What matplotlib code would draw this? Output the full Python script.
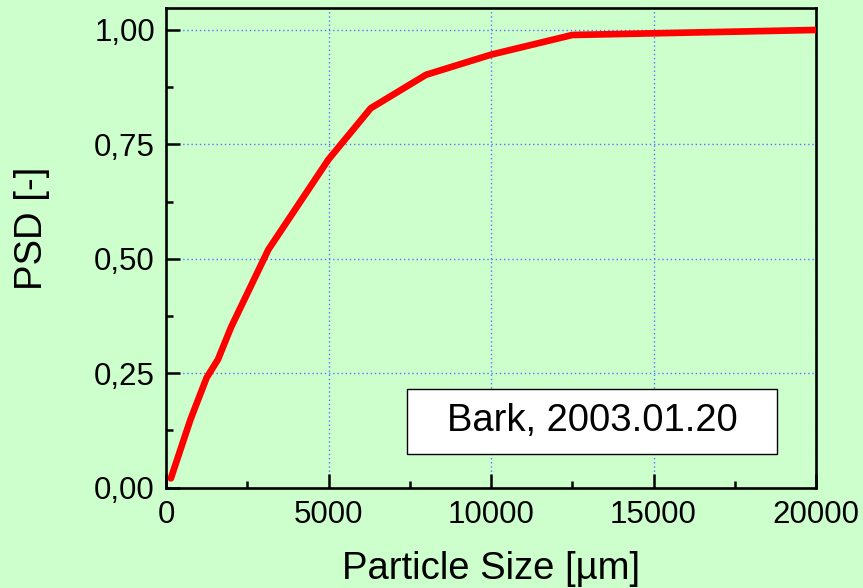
import matplotlib
matplotlib.use("Agg")
import matplotlib.pyplot as plt
from matplotlib.ticker import MultipleLocator, FuncFormatter
from matplotlib.patches import Rectangle

# Data
particle_size = [150, 750, 1250, 1600, 2000, 3150, 5000, 6300, 8000, 10000, 12500, 20000]
psd = [0.02, 0.148, 0.24, 0.28, 0.35, 0.52, 0.717, 0.829, 0.902, 0.946, 0.989, 1.0]
x_ticks = [0, 5000, 10000, 15000, 20000]
y_ticks = [0.0, 0.25, 0.5, 0.75, 1.0]
label_text = "Bark, 2003.01.20"

bg = "#CCFFCC"
plt.rcParams['font.family'] = ['Liberation Sans', 'DejaVu Sans']

fig = plt.figure(figsize=(8.63, 5.88), dpi=100, facecolor=bg)
ax = fig.add_axes([166/863, 1-487.5/588, 650/863, 479.5/588])
ax.set_facecolor(bg)

ax.plot(particle_size, psd, color='#FF0000', lw=4.8, solid_capstyle='round',
        solid_joinstyle='round', zorder=3)

ax.set_xlim(0, 20000)
ax.set_ylim(0, 1.048)
ax.set_xticks(x_ticks)
ax.set_yticks(y_ticks)
ax.xaxis.set_minor_locator(MultipleLocator(2500))
ax.yaxis.set_minor_locator(MultipleLocator(0.125))
ax.yaxis.set_major_formatter(FuncFormatter(lambda v, p: f"{v:.2f}".replace('.', ',')))
ax.xaxis.set_major_formatter(FuncFormatter(lambda v, p: f"{int(v)}"))

ax.grid(True, which='major', color='#5577FF', linestyle=(0, (1, 2)), lw=1.0, zorder=1)
ax.tick_params(which='major', direction='in', length=10, width=1.8, labelsize=22.5,
               color='black')
ax.tick_params(axis='x', which='major', pad=9)
ax.tick_params(axis='y', which='major', pad=8)
ax.tick_params(which='minor', direction='in', length=5, width=1.8)
for s in ax.spines.values():
    s.set_linewidth(1.9)

ax.set_xlabel("Particle Size [µm]", fontsize=27.5, labelpad=15)
ax.set_ylabel("PSD [-]", fontsize=27.5)
ax.yaxis.set_label_coords(-0.178, 0.54)

rect = Rectangle((0.3708, 0.0699), 0.5692, 0.1355, transform=ax.transAxes,
                 facecolor='white', edgecolor='black', lw=1.0, zorder=4)
ax.add_patch(rect)
ax.text(0.3708 + 0.5692/2, 0.0699 + 0.1355/2, label_text, transform=ax.transAxes,
        ha='center', va='center', fontsize=27.5, zorder=5)

fig.savefig("out.png", dpi=100, facecolor=bg)
